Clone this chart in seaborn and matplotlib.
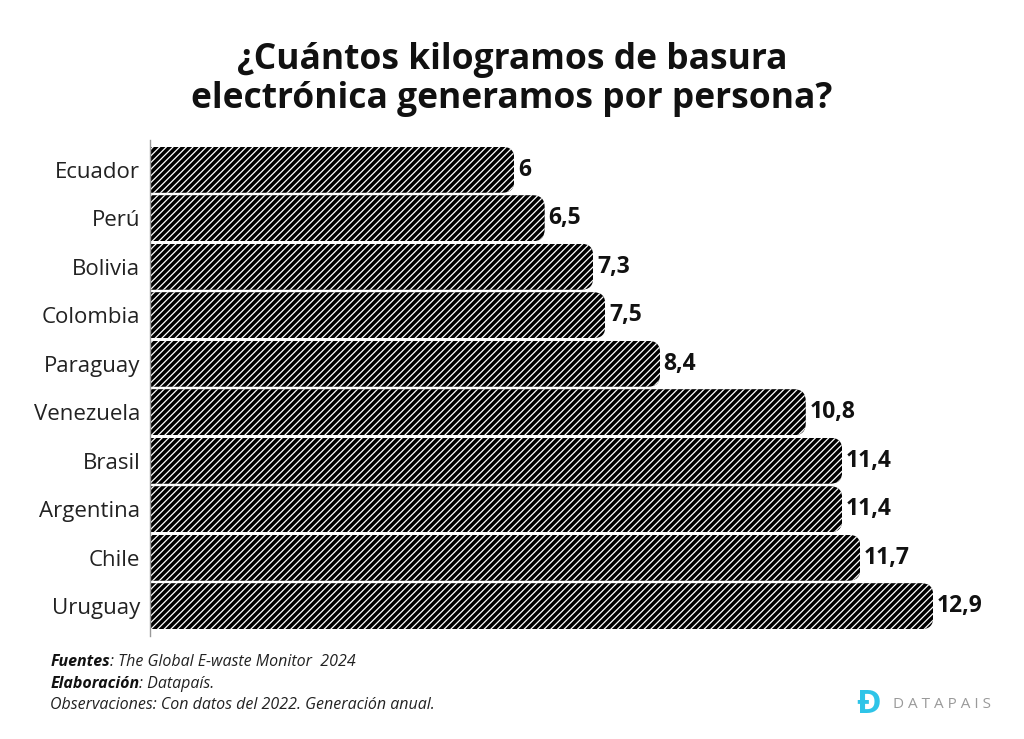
import matplotlib
matplotlib.use('Agg')
import matplotlib.pyplot as plt
import seaborn as sns
import pandas as pd
from matplotlib.patches import FancyBboxPatch

countries = ['Ecuador', 'Perú', 'Bolivia', 'Colombia', 'Paraguay',
             'Venezuela', 'Brasil', 'Argentina', 'Chile', 'Uruguay']
kg_per_person = [6, 6.5, 7.3, 7.5, 8.4, 10.8, 11.4, 11.4, 11.7, 12.9]
value_labels = ['6', '6,5', '7,3', '7,5', '8,4', '10,8', '11,4', '11,4', '11,7', '12,9']

df = pd.DataFrame({'pais': countries, 'kg': kg_per_person})

sns.set_theme(style='white')
plt.rcParams['font.family'] = ['Open Sans', 'DejaVu Sans']
plt.rcParams['hatch.linewidth'] = 0.9

fig = plt.figure(figsize=(10.24, 7.39), dpi=100)
ax = fig.add_axes([0.1465, 0.139, 0.81, 0.672])

sns.barplot(data=df, x='kg', y='pais', color='black', width=0.95,
            edgecolor='white', linewidth=0, ax=ax)

# hatch + rounded right corners
for bar in ax.patches:
    bar.set_facecolor('black')
    bar.set_edgecolor('white')
    bar.set_hatch('/////')
    x, y = bar.get_x(), bar.get_y()
    w, h = bar.get_width(), bar.get_height()
    clip = FancyBboxPatch((x - 1, y), w + 1, h,
                          boxstyle='round,pad=0,rounding_size=0.2',
                          mutation_aspect=1.25, transform=ax.transData)
    bar.set_clip_path(clip)

for i, v in enumerate(kg_per_person):
    ax.text(v + 0.06, i, value_labels[i], va='center', ha='left',
            fontsize=16.5, fontweight='bold', color='#111111')

ax.set_xlim(0, 13.66)
ax.set_ylim(9.62, -0.62)
ax.set_xlabel('')
ax.set_ylabel('')
ax.set_xticks([])
ax.tick_params(axis='y', length=0, pad=7, labelsize=16, labelcolor='#222222')
for s in ['top', 'right', 'bottom']:
    ax.spines[s].set_visible(False)
ax.spines['left'].set_color('#999999')
ax.spines['left'].set_linewidth(1.0)

fig.text(0.5, 0.892, '¿Cuántos kilogramos de basura\nelectrónica generamos por persona?',
         ha='center', va='center', fontsize=25.5, fontweight='bold',
         color='#111111', linespacing=1.1)

# footer: bold part followed by regular part
fig.canvas.draw()
renderer = fig.canvas.get_renderer()
footer = [('Fuentes', ': The Global E-waste Monitor  2024', 0.104),
          ('Elaboración', ': Datapaís.', 0.074)]
for bold_part, rest, yy in footer:
    t = fig.text(0.049, yy, bold_part, fontsize=11.5, fontweight='bold',
                 style='italic', color='#111111', va='center')
    bb = t.get_window_extent(renderer=renderer)
    fig.text(bb.x1 / fig.bbox.width, yy, rest, fontsize=11.5, style='italic',
             color='#222222', va='center')
fig.text(0.049, 0.046, 'Observaciones: Con datos del 2022. Generación anual.', fontsize=11.5,
         style='italic', color='#222222', va='center')

# logo
fig.text(0.836, 0.047, 'Ð', fontsize=24, fontweight='bold', color='#2ec4e8', va='center', ha='left')
fig.text(0.872, 0.047, 'D A T A P A I S', fontsize=11, color='#9a9a9a', va='center', ha='left')

fig.savefig('out.png', dpi=100)
